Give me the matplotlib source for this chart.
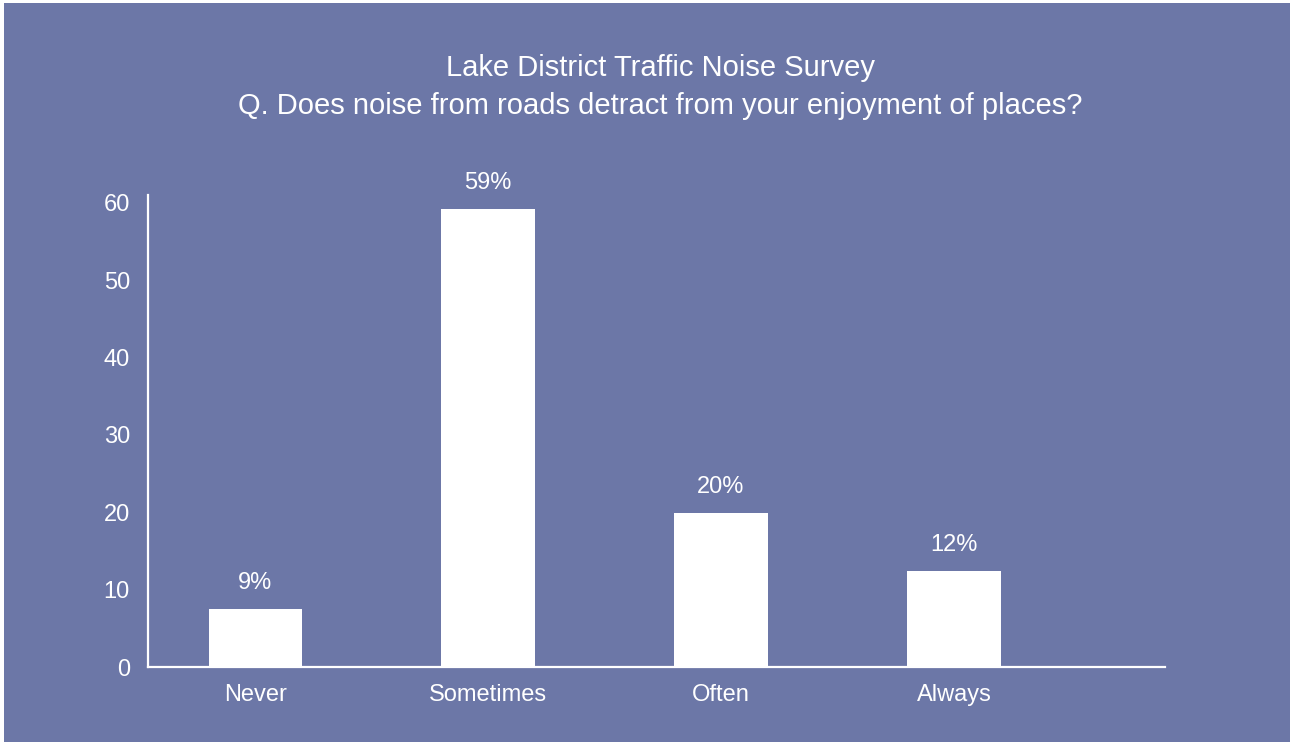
import matplotlib.pyplot as plt
from matplotlib.patches import Rectangle

categories = ["Never", "Sometimes", "Often", "Always"]
values = [7.5, 59.2, 19.9, 12.4]
bar_labels = ["9%", "59%", "20%", "12%"]
yticks = [0, 10, 20, 30, 40, 50, 60]

bg = "#6c77a7"
plt.rcParams["font.family"] = ["Liberation Sans", "DejaVu Sans"]

fig = plt.figure(figsize=(12.9, 7.42), dpi=100, facecolor="white")
# blue panel, small white strip at left and top like the original
fig.patches.append(Rectangle((4 / 1290, 0), 1, 1 - 3 / 742, transform=fig.transFigure,
                             facecolor=bg, edgecolor="none", zorder=-1))

ax = fig.add_axes([148 / 1290, 1 - 667 / 742, (1165 - 148) / 1290, (667 - 195) / 742])
ax.set_facecolor(bg)

x = list(range(len(categories)))
bars = ax.bar(x, values, width=0.4, color="white", zorder=2)
for b, lab in zip(bars, bar_labels):
    ax.annotate(lab, (b.get_x() + b.get_width() / 2, b.get_height()),
                xytext=(0, 11), textcoords="offset points",
                ha="center", va="bottom", color="white", fontsize=17)

ax.set_xlim(-0.46, 3.906)
ax.set_ylim(0, 61)
ax.set_xticks(x)
ax.set_xticklabels(categories)
ax.set_yticks(yticks)
ax.tick_params(axis="both", length=0, colors="white", labelsize=17)
ax.tick_params(axis="y", pad=13)
ax.tick_params(axis="x", pad=12)

for s in ["top", "right"]:
    ax.spines[s].set_visible(False)
for s in ["left", "bottom"]:
    ax.spines[s].set_color("white")
    ax.spines[s].set_linewidth(1.6)

title_x = 660 / 1290
fig.text(title_x, 1 - 68 / 742, "Lake District Traffic Noise Survey",
         ha="center", va="center", color="white", fontsize=21)
fig.text(title_x, 1 - 106 / 742, "Q. Does noise from roads detract from your enjoyment of places?",
         ha="center", va="center", color="white", fontsize=21)

fig.savefig("out.png", dpi=100, facecolor=fig.get_facecolor())
